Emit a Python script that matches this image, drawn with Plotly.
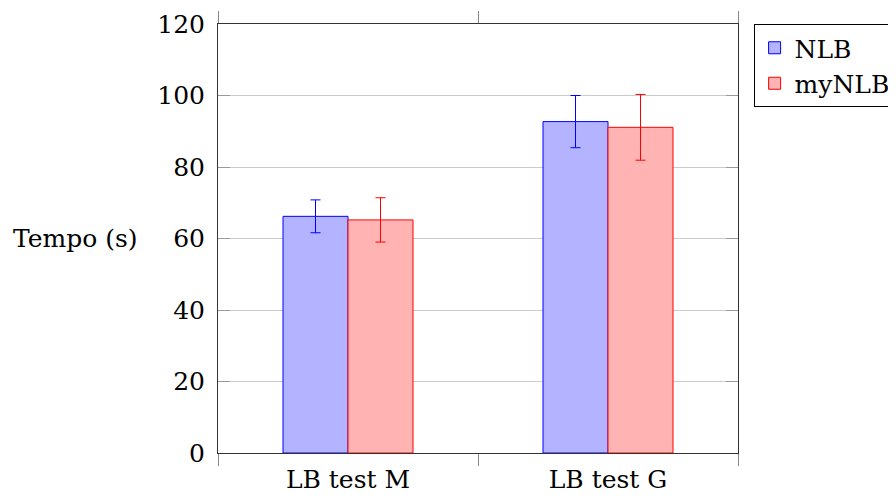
import plotly.graph_objects as go

categories = ["LB test M", "LB test G"]
nlb_values = [66.2, 92.7]
nlb_errors = [4.6, 7.3]
mynlb_values = [65.2, 91.1]
mynlb_errors = [6.2, 9.2]
y_ticks = [0, 20, 40, 60, 80, 100, 120]

FONT = "DejaVu Serif"
FS = 25

fig = go.Figure()
fig.add_trace(go.Bar(
    x=categories, y=nlb_values, name="NLB",
    marker=dict(color="#b3b3ff", line=dict(color="#0000ff", width=1)),
    error_y=dict(type="data", array=nlb_errors, color="#0000ff", thickness=1, width=5),
))
fig.add_trace(go.Bar(
    x=categories, y=mynlb_values, name="myNLB",
    marker=dict(color="#ffb3b3", line=dict(color="#ff0000", width=1)),
    error_y=dict(type="data", array=mynlb_errors, color="#ff0000", thickness=1, width=5),
))

fig.update_layout(
    width=896, height=499,
    margin=dict(l=210, r=166, t=16, b=54, autoexpand=False),
    paper_bgcolor="white", plot_bgcolor="white",
    barmode="group", bargap=0.5, bargroupgap=0,
    font=dict(family=FONT, size=FS, color="black"),
    legend=dict(x=1.03, y=1, xanchor="left", yanchor="top",
                bordercolor="black", borderwidth=1, bgcolor="white",
                font=dict(family=FONT, size=FS), tracegroupgap=0,
                itemwidth=30),
    showlegend=True,
)
fig.update_xaxes(
    type="category", tickson="boundaries", ticks="outside", ticklen=12,
    tickcolor="#888888", tickwidth=1, showline=True, linecolor="#333333",
    linewidth=1, mirror="allticks", showgrid=False, automargin=False,
    ticklabelstandoff=4,
    tickfont=dict(family=FONT, size=FS),
)
fig.update_yaxes(
    range=[0, 120], tickvals=y_ticks, ticks="inside", ticklen=12,
    tickcolor="#999999", tickwidth=1, showline=True, linecolor="#333333",
    linewidth=1, mirror="allticks", showgrid=True, gridcolor="#cccccc",
    gridwidth=1, zeroline=False, ticklabelstandoff=7, automargin=False,
    tickfont=dict(family=FONT, size=FS),
)
fig.add_annotation(
    text="Tempo (s)", xref="paper", yref="y", x=-0.275, y=60,
    xanchor="center", yanchor="middle", showarrow=False,
    font=dict(family=FONT, size=FS),
)
fig.write_html("out.html")
